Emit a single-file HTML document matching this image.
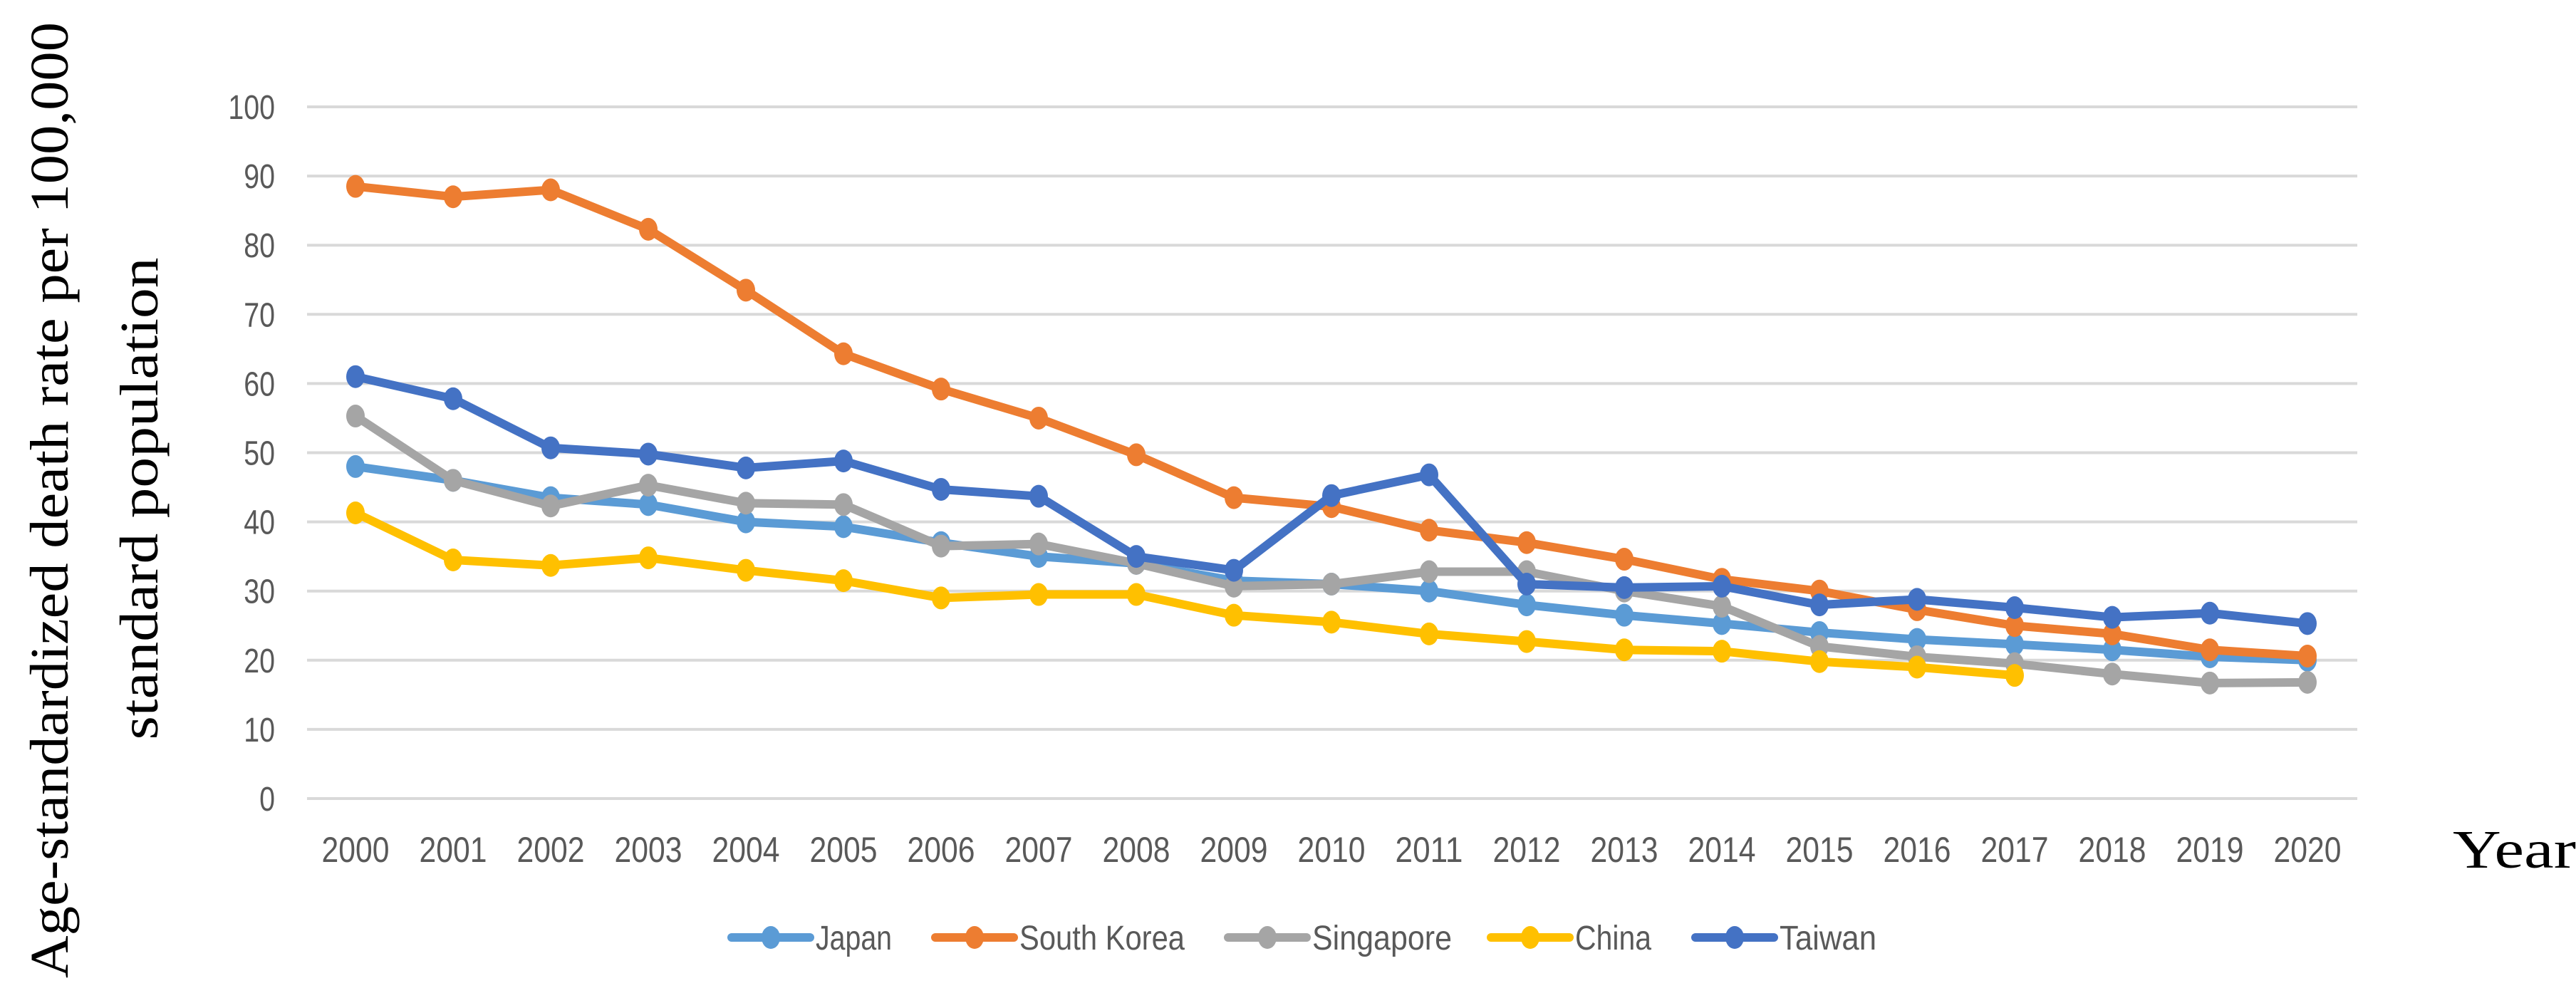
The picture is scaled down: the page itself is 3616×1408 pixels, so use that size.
<!DOCTYPE html>
<html><head><meta charset="utf-8">
<style>
html,body{margin:0;padding:0;background:#fff;}
svg{display:block;}
</style></head>
<body>
<svg id="chart" width="3616" height="1408" viewBox="0 0 3616 1408" xmlns="http://www.w3.org/2000/svg">
  <g id="grid"></g>
  <g id="yticks"></g>
  <g id="xticks"></g>
  <g id="series"></g>
  <g id="legend"></g>
  <text transform="translate(95,702) rotate(-90)" text-anchor="middle" font-family="Liberation Serif, serif" font-size="76" fill="#000" textLength="1342" lengthAdjust="spacingAndGlyphs">Age-standardized death rate per 100,000</text>
  <text transform="translate(221,700) rotate(-90)" text-anchor="middle" font-family="Liberation Serif, serif" font-size="76" fill="#000" textLength="677" lengthAdjust="spacingAndGlyphs">standard population</text>
  <text x="3443" y="1218" font-family="Liberation Serif, serif" font-size="76" fill="#000" textLength="173" lengthAdjust="spacingAndGlyphs">Year</text>
</svg>
<script>
const years = ["2000","2001","2002","2003","2004","2005","2006","2007","2008","2009","2010","2011","2012","2013","2014","2015","2016","2017","2018","2019","2020"];
const yTicks = [0,10,20,30,40,50,60,70,80,90,100];
const seriesNames = ["Japan","South Korea","Singapore","China","Taiwan"];
const japan = [48,46,43.5,42.5,40,39.3,37,35,34,31.5,31,30,28,26.5,25.3,24,23,22.3,21.5,20.5,20];
const southKorea = [88.5,87,88,82.3,73.5,64.3,59.2,55,49.7,43.5,42.2,38.8,37,34.6,31.7,30,27.3,25,23.8,21.5,20.6];
const singapore = [55.3,46,42.3,45.3,42.7,42.5,36.5,36.8,34,30.7,31,32.8,32.8,30,27.8,22,20.5,19.5,18,16.7,16.8];
const china = [41.3,34.5,33.7,34.8,33,31.5,29,29.5,29.5,26.5,25.5,23.8,22.7,21.5,21.3,19.8,19,17.8];
const taiwan = [61,57.8,50.7,49.8,47.8,48.8,44.7,43.7,35,33,43.8,46.8,31,30.5,30.7,28,28.8,27.6,26.2,26.8,25.3];

const NS = "http://www.w3.org/2000/svg";
const colors = ["#5B9BD5","#ED7D31","#A5A5A5","#FFC000","#4472C4"];
const allSeries = [japan, southKorea, singapore, china, taiwan];
const x0 = 499, x1 = 3239, yTop = 150, yBot = 1121, gridL = 431, gridR = 3309;
function xs(i){ return x0 + (x1 - x0) * i / (years.length - 1); }
function ys(v){ return yBot - (yBot - yTop) * v / 100; }
function mk(tag, attrs, parent){ const e = document.createElementNS(NS, tag); for (const k in attrs) e.setAttribute(k, attrs[k]); parent.appendChild(e); return e; }

const grid = document.getElementById('grid');
const yt = document.getElementById('yticks');
yTicks.forEach(v => {
  const l = mk('line', {x1:gridL, x2:gridR, y1:ys(v), y2:ys(v), stroke:'#d9d9d9', 'stroke-width':4}, grid);
  
  
  const t = mk('text', {x:386, y:ys(v)+17, 'text-anchor':'end', 'font-family':'Liberation Sans, sans-serif', 'font-size':48, fill:'#595959', transform:'translate(386,0) scale(0.82,1) translate(-386,0)'}, yt);
  t.textContent = v;
  
  
});
const xt = document.getElementById('xticks');
years.forEach((y, i) => {
  const t = mk('text', {x:xs(i), y:1210, 'text-anchor':'middle', 'font-family':'Liberation Sans, sans-serif', 'font-size':50, fill:'#595959', textLength:95, lengthAdjust:'spacingAndGlyphs'}, xt);
  t.textContent = y;
  
  
});
const sg = document.getElementById('series');
allSeries.forEach((arr, s) => {
  const g = mk('g', {}, sg);
  
  
  const pts = arr.map((v, i) => xs(i) + ',' + ys(v)).join(' ');
  mk('polyline', {points:pts, fill:'none', stroke:colors[s], 'stroke-width':12, 'stroke-linejoin':'round'}, g);
  arr.forEach((v, i) => {
    const c = mk('ellipse', {cx:xs(i), cy:ys(v), rx:13, ry:16, fill:colors[s]}, g);
    
    
  });
});
const lg = document.getElementById('legend');
const legX = [1027, 1313, 1724, 2093, 2380];
const legW = [107, 232, 196, 107, 136];
seriesNames.forEach((n, s) => {
  const g = mk('g', {}, lg);
  
  
  mk('line', {x1:legX[s], x2:legX[s]+110, y1:1316, y2:1316, stroke:colors[s], 'stroke-width':12, 'stroke-linecap':'round'}, g);
  mk('ellipse', {cx:legX[s]+55, cy:1316, rx:13, ry:16, fill:colors[s]}, g);
  const t = mk('text', {x:legX[s]+118, y:1333, 'font-family':'Liberation Sans, sans-serif', 'font-size':48, fill:'#595959', textLength:legW[s], lengthAdjust:'spacingAndGlyphs'}, g);
  t.textContent = n;
});
</script>
</body></html>
